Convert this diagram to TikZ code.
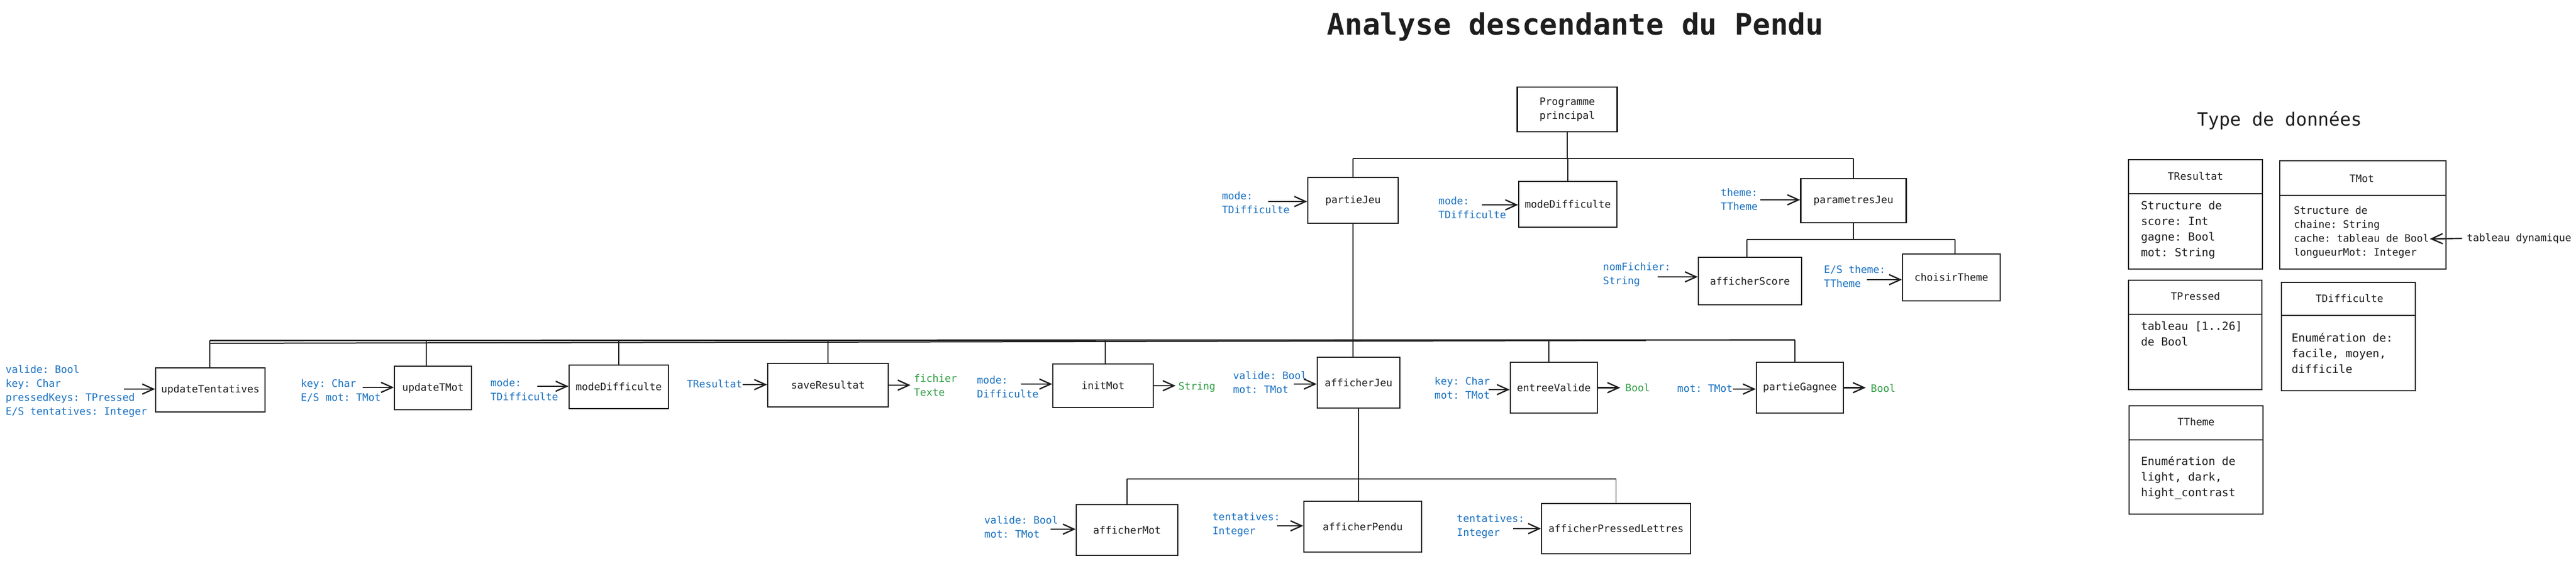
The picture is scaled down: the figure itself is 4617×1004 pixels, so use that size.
\documentclass[tikz,border=0pt]{standalone}
\usepackage{fontspec}
\setmonofont{DejaVu Sans Mono}
\usetikzlibrary{arrows.meta}
\definecolor{ink}{HTML}{1E1E1E}
\definecolor{lblue}{HTML}{1971C2}
\definecolor{lgreen}{HTML}{2F9E44}
\newcommand\fL{\ttfamily\fontsize{18.3}{25}\selectfont}
\newcommand\fT{\ttfamily\fontsize{20.1}{28}\selectfont}
\begin{document}
\begin{tikzpicture}[x=1pt,y=-1pt,
  box/.style 2 args={draw=ink,line width=2.2pt,fill=white,minimum width=#1pt,minimum height=#2pt,inner sep=0pt,font=\fL,text=ink,align=center},
  lbl/.style={font=\fL,text=lblue,align=left,inner sep=0pt,anchor=west},
  res/.style={lbl,text=lgreen},
  arr/.style={draw=ink,line width=2.4pt,-{Straight Barb[length=20pt,width=18pt]}},
  link/.style={draw=ink,line width=1.6pt},
  bus/.style={draw=ink,line width=2.6pt},
  tbox/.style 2 args={draw=ink,line width=2.2pt,minimum width=#1pt,minimum height=#2pt,inner sep=0pt},
  ttl/.style={font=\fL,text=ink,inner sep=0pt},
  tbody/.style={font=\fT,text=ink,align=left,inner sep=0pt,anchor=west},
  tbodys/.style={font=\fL,text=ink,align=left,inner sep=0pt,anchor=west},
]
\useasboundingbox[fill=white] (0,0) rectangle (4617,1004);

% titles
\node[font=\ttfamily\bfseries\fontsize{52.8}{60}\selectfont,text=ink,anchor=base,inner sep=0pt] (title) at (2823.5,62.5) {Analyse descendante du Pendu};
\node[font=\ttfamily\fontsize{32.7}{40}\selectfont,text=ink,anchor=base,inner sep=0pt] (tdt) at (4085.5,225) {Type de données};

% ---------- level 0 / 1
\node[box={179}{80}] (prog) at (2809,196) {Programme\\principal};
\node[box={162}{82}] (pj) at (2425,359) {partieJeu};
\node[box={176}{82}] (md1) at (2810,366) {modeDifficulte};
\node[box={189}{79}] (pa) at (3322,359.5) {parametresJeu};
\node[box={185}{85}] (as) at (3136.5,503.5) {afficherScore};
\node[box={175}{84}] (ct) at (3497.5,497) {choisirTheme};

\coordinate (b1L) at (2425,284);
\coordinate (b1R) at (3322,284);
\draw[link] (prog.south) -- (prog.south |- b1L);
\draw[bus] (b1L) -- (b1R);
\draw[link] (b1L) -- (pj.north);
\draw[link] (md1.north |- b1L) -- (md1.north);
\draw[link] (b1R) -- (pa.north);

\coordinate (bpL) at (3131,429);
\coordinate (bpR) at (3504,429);
\draw[link] (pa.south) -- (pa.south |- bpL);
\draw[bus] (bpL) -- (bpR);
\draw[link] (bpL) -- (bpL |- as.north);
\draw[link] (bpR) -- (bpR |- ct.north);

% labels level 1
\node[lbl] (lpj) at (2190,364.5) {\strut mode:\\\strut TDifficulte};
\coordinate (spj) at (2273,361);
\draw[arr] (spj) -- (spj -| pj.west);
\node[lbl] (lmd1) at (2578,373.5) {\strut mode:\\\strut TDifficulte};
\coordinate (smd1) at (2656,367);
\draw[arr] (smd1) -- (smd1 -| md1.west);
\node[lbl] (lpa) at (3084,358.5) {\strut theme:\\\strut TTheme};
\coordinate (spa) at (3155,358);
\draw[arr] (spa) -- (spa -| pa.west);
\node[lbl] (las) at (2873,491.5) {\strut nomFichier:\\\strut String};
\coordinate (sas) at (2971,496);
\draw[arr] (sas) -- (sas -| as.west);
\node[lbl] (lct) at (3269,497) {\strut E/S theme:\\\strut TTheme};
\coordinate (sct) at (3346,501);
\draw[arr] (sct) -- (sct -| ct.west);

% ---------- level 2
\node[box={196}{79}] (ut) at (377,698.5) {updateTentatives};
\node[box={138}{78}] (utm) at (776,695) {updateTMot};
\node[box={178}{78}] (md2) at (1109,693) {modeDifficulte};
\node[box={216}{78}] (sr) at (1484,690) {saveResultat};
\node[box={180}{78}] (im) at (1977,691) {initMot};
\node[box={148}{91}] (aj) at (2435,685.5) {afficherJeu};
\node[box={156}{91}] (ev) at (2785,694.5) {entreeValide};
\node[box={156}{91}] (pg) at (3226,694.5) {partieGagnee};

\coordinate (b2L) at (376,610);
\coordinate (b2R) at (3217,609);
\coordinate (b2M) at (2950,610);
\draw[bus] (b2L) -- (b2R);
\draw[draw=ink,line width=2pt] ([yshift=-5pt]b2L) -- (b2M);
\draw[link] (pj.south) -- (pj.south |- aj.north);
\draw[link] (b2L) -- (b2L |- ut.north);
\draw[link] ([xshift=-12pt]utm.north |- b2L) -- ([xshift=-12pt]utm.north);
\draw[link] (md2.north |- b2L) -- (md2.north);
\draw[link] (sr.north |- b2L) -- (sr.north);
\draw[link] ([xshift=4pt]im.north |- b2L) -- ([xshift=4pt]im.north);
\draw[link] ([xshift=-9pt]ev.north |- b2L) -- ([xshift=-9pt]ev.north);
\draw[link] (b2R) -- (b2R |- pg.north);

% labels level 2
\node[lbl] (lut) at (10,700.5) {\strut valide: Bool\\\strut key: Char\\\strut pressedKeys: TPressed\\\strut E/S tentatives: Integer};
\coordinate (sut) at (222,697);
\draw[arr] (sut) -- (sut -| ut.west);
\node[lbl] (lutm) at (539,700.5) {\strut key: Char\\\strut E/S mot: TMot};
\coordinate (sutm) at (650,694);
\draw[arr] (sutm) -- (sutm -| utm.west);
\node[lbl] (lmd2) at (879,699.5) {\strut mode:\\\strut TDifficulte};
\coordinate (smd2) at (963,692);
\draw[arr] (smd2) -- (smd2 -| md2.west);
\node[lbl] (lsr) at (1231,689) {\strut TResultat};
\draw[arr] (lsr.east) -- (lsr.east -| sr.west);
\coordinate (osr) at (1632,690);
\draw[arr] (sr.east) -- (osr);
\node[res] (rsr) at (1638,691.5) {\strut fichier\\\strut Texte};
\node[lbl] (lim) at (1751,695) {\strut mode:\\\strut Difficulte};
\coordinate (sim) at (1830,688);
\draw[arr] (sim) -- (sim -| im.west);
\coordinate (oim) at (2107,691);
\draw[arr] (im.east) -- (oim);
\node[res] (rim) at (2112,693) {\strut String};
\node[lbl] (laj) at (2210,686.5) {\strut valide: Bool\\\strut mot: TMot};
\coordinate (saj) at (2319,688);
\draw[arr] (saj) -- (saj -| aj.west);
\node[lbl] (lev) at (2571,696.5) {\strut key: Char\\\strut mot: TMot};
\coordinate (sev) at (2668,698);
\draw[arr] (sev) -- (sev -| ev.west);
\coordinate (oev) at (2904,694.5);
\draw[arr] (ev.east) -- (oev);
\node[res] (rev) at (2913,696) {\strut Bool};
\node[lbl] (lpg) at (3006,697) {\strut mot: TMot};
\draw[arr] (lpg.east) -- (lpg.east -| pg.west);
\coordinate (opg) at (3344,694.5);
\draw[arr] (pg.east) -- (opg);
\node[res] (rpg) at (3353,697) {\strut Bool};

% ---------- level 3
\node[box={182}{91}] (am) at (2020,949.5) {afficherMot};
\node[box={211}{91}] (ap) at (2442.5,943.5) {afficherPendu};
\node[box={267}{90}] (apl) at (2896.5,947) {afficherPressedLettres};

\coordinate (b3L) at (2020,858);
\coordinate (b3R) at (2896.5,858);
\draw[link] (aj.south) -- (aj.south |- ap.north);
\draw[bus] (b3L) -- (b3R);
\draw[link] (b3L) -- (am.north);
\draw[link] (b3R) -- (apl.north);

\node[lbl] (lam) at (1764,945.5) {\strut valide: Bool\\\strut mot: TMot};
\coordinate (sam) at (1883,948);
\draw[arr] (sam) -- (sam -| am.west);
\node[lbl] (lap) at (2173,939.5) {\strut tentatives:\\\strut Integer};
\coordinate (sap) at (2289,942);
\draw[arr] (sap) -- (sap -| ap.west);
\node[lbl] (lapl) at (2611,943) {\strut tentatives:\\\strut Integer};
\coordinate (sapl) at (2712,947);
\draw[arr] (sapl) -- (sapl -| apl.west);

% ---------- types
\node[tbox={240}{196}] (tres) at (3935,384) {};
\draw[draw=ink,line width=2pt] ([yshift=-62pt]tres.north west) -- ([yshift=-62pt]tres.north east);
\node[ttl] (tres-t) at (3935,316) {TResultat};
\node[tbody] (tres-b) at (3837,412.25) {\strut Structure de\\\strut score: Int\\\strut gagne: Bool\\\strut mot: String};

\node[tbox={298}{194}] (tmot) at (4235,385) {};
\draw[draw=ink,line width=2pt] ([yshift=-63pt]tmot.north west) -- ([yshift=-63pt]tmot.north east);
\node[ttl] (tmot-t) at (4233,320) {TMot};
\node[tbodys] (tmot-b) at (4111,415.5) {\strut Structure de\\\strut chaine: String\\\strut cache: tableau de Bool\\\strut longueurMot: Integer};
\node[ttl,anchor=west] (tdyn) at (4421,427) {tableau dynamique};
\coordinate (tdynE) at (4355,428);
\draw[arr] ([xshift=-8pt]tdyn.west) -- (tdynE);

\node[tbox={239}{196}] (tpr) at (3934.5,600) {};
\draw[draw=ink,line width=2pt] ([yshift=-62pt]tpr.north west) -- ([yshift=-62pt]tpr.north east);
\node[ttl] (tpr-t) at (3935,531) {TPressed};
\node[tbody] (tpr-b) at (3837,600) {\strut tableau [1..26]\\\strut de Bool};

\node[tbox={240}{194}] (tdif) at (4209,603) {};
\draw[draw=ink,line width=2pt] ([yshift=-60pt]tdif.north west) -- ([yshift=-60pt]tdif.north east);
\node[ttl] (tdif-t) at (4211,535) {TDifficulte};
\node[tbody] (tdif-b) at (4107,634.5) {\strut Enumération de:\\\strut facile, moyen,\\\strut difficile};

\node[tbox={240}{194}] (tth) at (3936,824) {};
\draw[draw=ink,line width=2pt] ([yshift=-62pt]tth.north west) -- ([yshift=-62pt]tth.north east);
\node[ttl] (tth-t) at (3936,756) {TTheme};
\node[tbody] (tth-b) at (3837,855.5) {\strut Enumération de\\\strut light, dark,\\\strut hight\_contrast};
\end{tikzpicture}
\end{document}
